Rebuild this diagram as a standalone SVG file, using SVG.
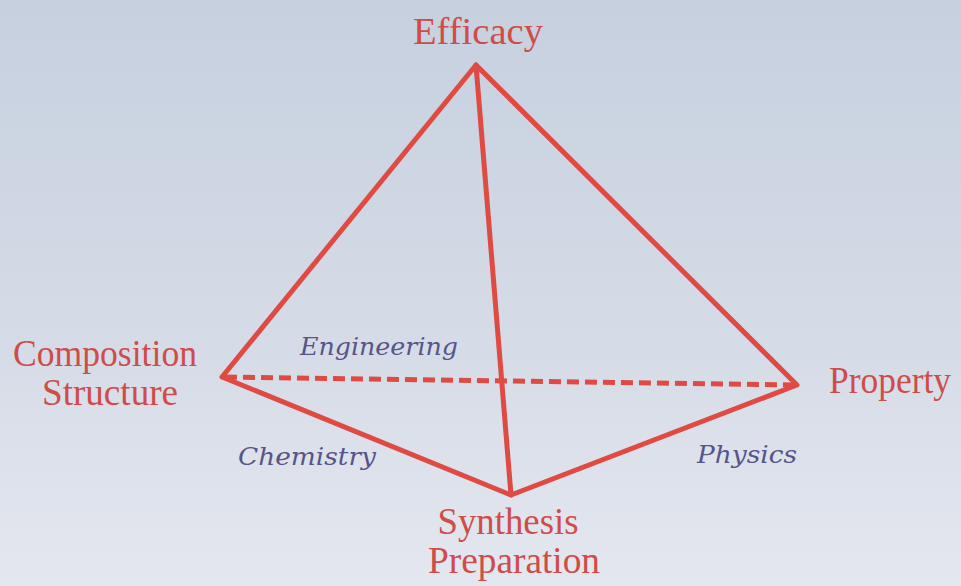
<svg xmlns="http://www.w3.org/2000/svg" width="961" height="586" viewBox="0 0 961 586">
<defs>
<linearGradient id="bg" x1="0" y1="0" x2="0" y2="1">
<stop offset="0" stop-color="#c6d0df"/>
<stop offset="0.6" stop-color="#d6dce7"/>
<stop offset="1" stop-color="#e4e7ef"/>
</linearGradient>
<style>
.edge{stroke:#df4b42;stroke-width:5;fill:none;stroke-linecap:round;stroke-linejoin:round}
.dash{stroke:#df4b42;stroke-width:5;fill:none;stroke-dasharray:12 6}
.lbl{font-family:"Liberation Serif","Times New Roman",serif;font-size:37px;fill:#cf4c48;text-anchor:middle}
.sub{font-family:"DejaVu Serif","Liberation Serif",serif;font-style:italic;font-size:24px;fill:#555589;text-anchor:middle}
</style>
</defs>
<rect width="961" height="586" fill="url(#bg)"/>
<g id="connectors">
<line class="dash" x1="225" y1="377" x2="795" y2="385"/>
<polyline class="edge" points="222,377 476,65 797,385 511,495 222,377"/>
<line class="edge" x1="476" y1="65" x2="511" y2="495"/>
</g>
<g id="efficacy"><text class="lbl" x="478" y="44" textLength="130" lengthAdjust="spacingAndGlyphs">Efficacy</text></g>
<g id="composition"><text class="lbl" x="105" y="366" textLength="184" lengthAdjust="spacingAndGlyphs">Composition</text><text class="lbl" x="110" y="405" textLength="136" lengthAdjust="spacingAndGlyphs">Structure</text></g>
<g id="property"><text class="lbl" x="890" y="393" textLength="122" lengthAdjust="spacingAndGlyphs">Property</text></g>
<g id="synthesis"><text class="lbl" x="508" y="534" textLength="141" lengthAdjust="spacingAndGlyphs">Synthesis</text><text class="lbl" x="514" y="573" textLength="172" lengthAdjust="spacingAndGlyphs">Preparation</text></g>
<g id="engineering"><text class="sub" x="379" y="355" textLength="158" lengthAdjust="spacingAndGlyphs">Engineering</text></g>
<g id="chemistry"><text class="sub" x="307" y="465" textLength="138" lengthAdjust="spacingAndGlyphs">Chemistry</text></g>
<g id="physics"><text class="sub" x="747" y="463" textLength="100" lengthAdjust="spacingAndGlyphs">Physics</text></g>
</svg>
